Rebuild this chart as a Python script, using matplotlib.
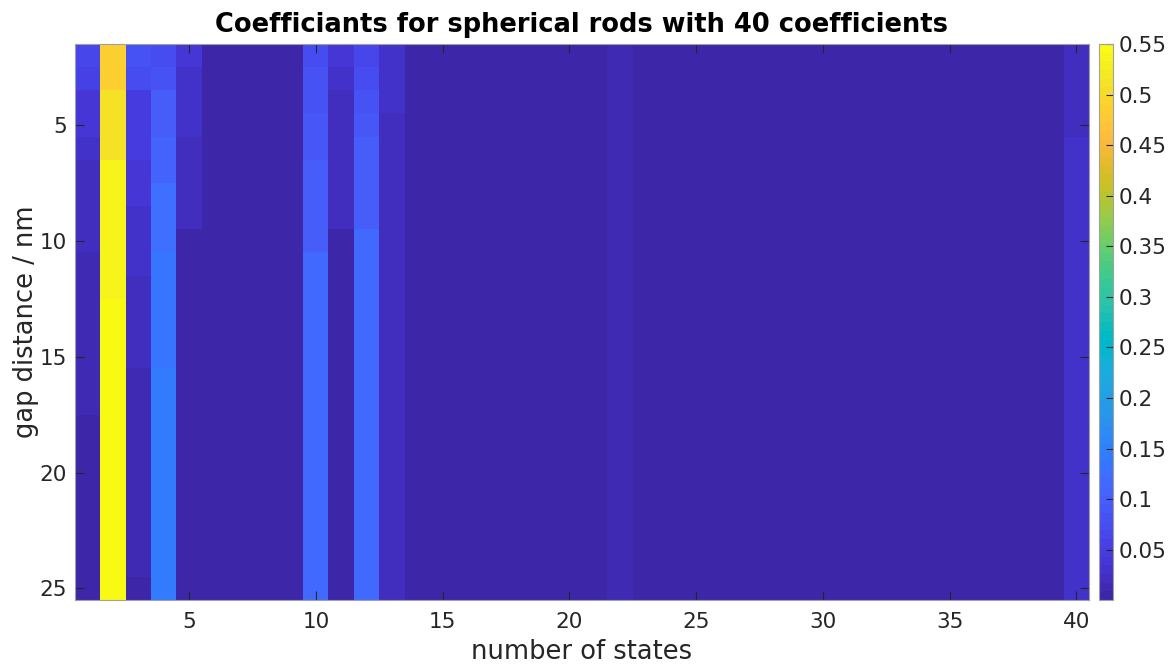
import numpy as np
import matplotlib
matplotlib.use("Agg")
import matplotlib.pyplot as plt
from matplotlib.colors import ListedColormap
from matplotlib.ticker import FormatStrFormatter

# axes: number of states (columns) and gap distance in nm (rows)
states = np.arange(1, 41)
gaps = np.arange(2, 26)

# background level for the flat columns
background = 0.004

# coefficient profiles over gap 2..25 nm for the columns that stand out
col1 = [0.065, 0.056, 0.039, 0.039, 0.030, 0.024, 0.020, 0.020, 0.020,
        0.013, 0.013, 0.013, 0.013, 0.013, 0.013, 0.013,
        0.007, 0.007, 0.007, 0.007, 0.007, 0.007, 0.007, 0.007]
col2 = [0.486, 0.486, 0.515, 0.515, 0.515, 0.533, 0.533, 0.541, 0.541,
        0.541, 0.541, 0.548, 0.549, 0.549, 0.550, 0.550, 0.550, 0.550,
        0.550, 0.550, 0.550, 0.550, 0.550, 0.550]
col3 = [0.082, 0.070, 0.050, 0.044, 0.044, 0.036, 0.036, 0.028, 0.028,
        0.028, 0.020, 0.020, 0.020, 0.020, 0.013, 0.013, 0.013, 0.013,
        0.013, 0.013, 0.013, 0.013, 0.013, 0.007]
col4 = [0.073, 0.082, 0.100, 0.100, 0.112, 0.112, 0.125, 0.125, 0.128,
        0.135, 0.135, 0.135, 0.135, 0.135, 0.145, 0.145, 0.145, 0.145,
        0.145, 0.145, 0.145, 0.145, 0.145, 0.145]
col5 = [0.039, 0.030, 0.030, 0.030, 0.018, 0.018, 0.018, 0.018,
        0.004, 0.004, 0.004, 0.004, 0.004, 0.004, 0.004, 0.004,
        0.004, 0.004, 0.004, 0.004, 0.004, 0.004, 0.004, 0.004]
col10 = [0.074, 0.080, 0.085, 0.090, 0.090, 0.097, 0.097, 0.103, 0.103,
         0.113, 0.113, 0.113, 0.113, 0.113, 0.113, 0.113, 0.113, 0.113,
         0.113, 0.113, 0.113, 0.113, 0.113, 0.113]
col11 = [0.040, 0.032, 0.026, 0.026, 0.018, 0.018, 0.018, 0.018,
         0.004, 0.004, 0.004, 0.004, 0.004, 0.004, 0.004, 0.004,
         0.004, 0.004, 0.004, 0.004, 0.004, 0.004, 0.004, 0.004]
col12 = [0.063, 0.074, 0.082, 0.087, 0.097, 0.097, 0.097, 0.097,
         0.113, 0.113, 0.113, 0.113, 0.113, 0.113, 0.113, 0.113,
         0.113, 0.113, 0.113, 0.113, 0.113, 0.113, 0.113, 0.113]
col13 = [0.030, 0.030, 0.030] + [0.018] * 21
col22 = [0.012] * 24
col40 = [0.024, 0.024, 0.024, 0.024] + [0.030] * 20

cbar_ticks = [0.05, 0.1, 0.15, 0.2, 0.25, 0.3, 0.35, 0.4, 0.45, 0.5, 0.55]

# MATLAB parula, 64 entries
parula = [
    [0.2422, 0.1504, 0.6603], [0.2504, 0.1650, 0.7076], [0.2578, 0.1818, 0.7511],
    [0.2647, 0.1978, 0.7952], [0.2706, 0.2147, 0.8364], [0.2751, 0.2342, 0.8710],
    [0.2783, 0.2559, 0.8991], [0.2803, 0.2782, 0.9221], [0.2813, 0.3006, 0.9414],
    [0.2810, 0.3228, 0.9579], [0.2795, 0.3447, 0.9717], [0.2760, 0.3667, 0.9829],
    [0.2699, 0.3892, 0.9906], [0.2602, 0.4123, 0.9952], [0.2440, 0.4358, 0.9988],
    [0.2206, 0.4603, 0.9973], [0.1963, 0.4847, 0.9892], [0.1834, 0.5074, 0.9798],
    [0.1786, 0.5289, 0.9682], [0.1764, 0.5499, 0.9520], [0.1687, 0.5703, 0.9359],
    [0.1540, 0.5902, 0.9218], [0.1460, 0.6091, 0.9079], [0.1380, 0.6276, 0.8973],
    [0.1248, 0.6459, 0.8883], [0.1113, 0.6635, 0.8763], [0.0952, 0.6798, 0.8598],
    [0.0689, 0.6948, 0.8394], [0.0297, 0.7082, 0.8163], [0.0036, 0.7203, 0.7917],
    [0.0067, 0.7312, 0.7660], [0.0433, 0.7411, 0.7394], [0.0964, 0.7500, 0.7120],
    [0.1408, 0.7584, 0.6842], [0.1717, 0.7670, 0.6554], [0.1938, 0.7758, 0.6251],
    [0.2161, 0.7843, 0.5923], [0.2470, 0.7918, 0.5567], [0.2906, 0.7973, 0.5188],
    [0.3406, 0.8008, 0.4789], [0.3909, 0.8029, 0.4354], [0.4456, 0.8024, 0.3909],
    [0.5044, 0.7993, 0.3480], [0.5616, 0.7942, 0.3045], [0.6174, 0.7876, 0.2612],
    [0.6720, 0.7793, 0.2227], [0.7242, 0.7698, 0.1910], [0.7738, 0.7598, 0.1646],
    [0.8203, 0.7498, 0.1535], [0.8634, 0.7406, 0.1596], [0.9035, 0.7330, 0.1774],
    [0.9393, 0.7288, 0.2100], [0.9728, 0.7298, 0.2394], [0.9956, 0.7434, 0.2371],
    [0.9970, 0.7659, 0.2199], [0.9952, 0.7893, 0.2028], [0.9892, 0.8136, 0.1885],
    [0.9786, 0.8386, 0.1766], [0.9676, 0.8639, 0.1643], [0.9610, 0.8890, 0.1537],
    [0.9597, 0.9135, 0.1423], [0.9628, 0.9373, 0.1265], [0.9691, 0.9606, 0.1064],
    [0.9769, 0.9839, 0.0805],
]
cmap = ListedColormap(parula)

coeffs = np.full((len(gaps), len(states)), background)
for state, profile in [(1, col1), (2, col2), (3, col3), (4, col4), (5, col5),
                       (10, col10), (11, col11), (12, col12), (13, col13),
                       (22, col22), (40, col40)]:
    coeffs[:, state - 1] = profile

plt.rcParams["font.family"] = "DejaVu Sans"
fig = plt.figure(figsize=(11.69, 6.64), dpi=100)
ax = fig.add_axes([0.0642, 0.0964, 0.8673, 0.8373])
cax = fig.add_axes([0.9401, 0.0964, 0.0120, 0.8373])

im = ax.imshow(coeffs, cmap=cmap, vmin=0.0004, vmax=0.55, aspect="auto",
               interpolation="nearest",
               extent=[states[0] - 0.5, states[-1] + 0.5, gaps[-1] + 0.5, gaps[0] - 0.5])

ax.set_xticks([5, 10, 15, 20, 25, 30, 35, 40])
ax.set_yticks([5, 10, 15, 20, 25])
ax.tick_params(direction="in", length=6.5, width=0.8, color="#262626",
               top=True, right=True, labelsize=15.5, labelcolor="#262626", pad=6)
ax.tick_params(axis="x", pad=9)
for spine in ax.spines.values():
    spine.set_color("#a0a0a0")
    spine.set_linewidth(0.8)

ax.set_xlabel("number of states", fontsize=18.5, color="#262626", labelpad=5)
ax.set_ylabel("gap distance / nm", fontsize=18.5, color="#262626", labelpad=0)
ax.set_title("Coefficiants for spherical rods with 40 coefficients",
             fontsize=18.5, fontweight="bold", pad=9)

cb = fig.colorbar(im, cax=cax, ticks=cbar_ticks)
cb.ax.yaxis.set_major_formatter(FormatStrFormatter("%g"))
cb.ax.tick_params(direction="in", length=5, width=0.8, color="#262626",
                  labelsize=15.5, labelcolor="#262626", pad=4)
cb.outline.set_edgecolor("#a0a0a0")
cb.outline.set_linewidth(0.8)

fig.savefig("out.png", dpi=100)
plt.close(fig)
